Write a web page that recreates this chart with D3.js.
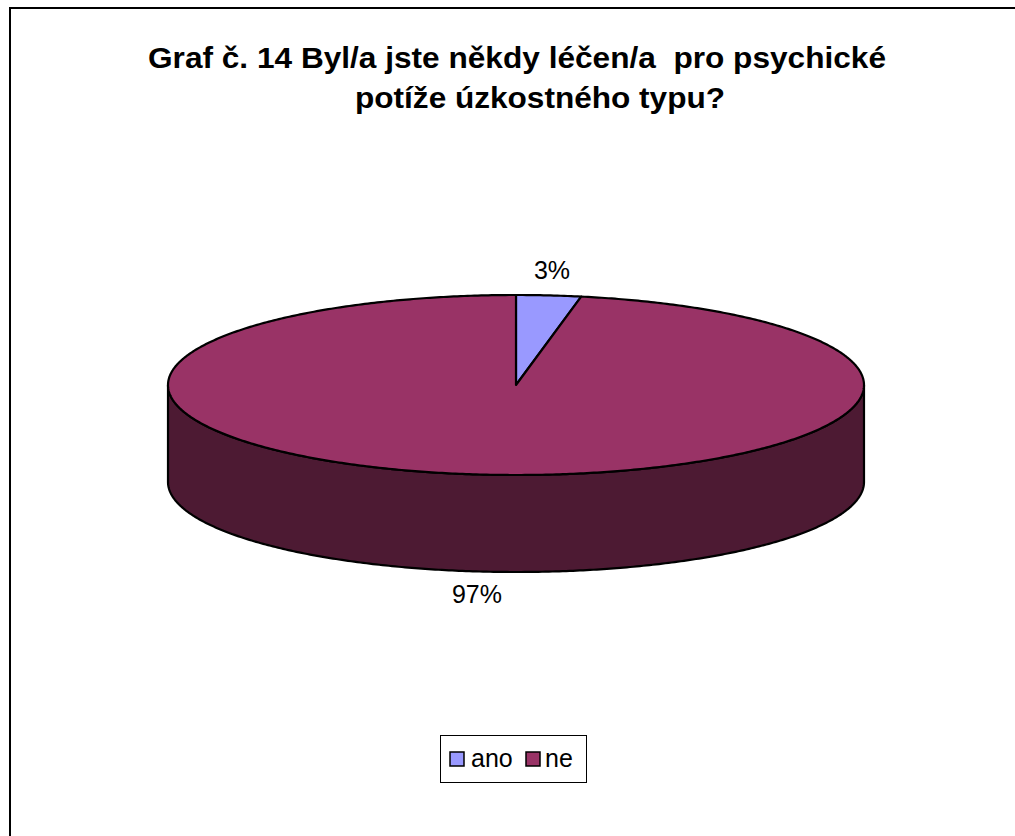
<!DOCTYPE html>
<html><head><meta charset="utf-8">
<script src="https://cdn.jsdelivr.net/npm/d3@7"></script>
<style>html,body{margin:0;background:#fff;overflow:hidden}svg{display:block}text{font-family:"Liberation Sans",Arial,sans-serif;white-space:pre}</style>
</head><body>
<script>
const categories = ["ano", "ne"];
const values = [3, 97];
const labels = ["3%", "97%"];
const colors = ["#9999FF", "#993366"];
const sideColor = "#4D1A33";
const titleLines = ["Graf č. 14 Byl/a jste někdy léčen/a  pro psychické", "potíže úzkostného typu?"];

const W = 1015, H = 836;
const svg = d3.select("body").append("svg").attr("width", W).attr("height", H);
svg.append("rect").attr("x", 10).attr("y", 8).attr("width", 1020).attr("height", 850)
  .attr("fill", "#fff").attr("stroke", "#000").attr("stroke-width", 2);

const titleX = [148, 355], titleLen = [738, 370];
svg.selectAll("text.title").data(titleLines).enter().append("text")
  .attr("class", "title").attr("x", (d, i) => titleX[i]).attr("y", (d, i) => 68 + i * 40)
  .attr("font-weight", "bold").attr("font-size", 29)
  .attr("textLength", (d, i) => titleLen[i]).attr("lengthAdjust", "spacingAndGlyphs")
  .text(d => d);

const cx = 516, cy = 385, rx = 348, ry = 90, depth = 97;
const pie = d3.pie().sort(null).value(d => d)(values);
const pt = (t, dy = 0) => [cx + rx * Math.sin(t), cy - ry * Math.cos(t) + dy];

function arcPoints(a0, a1, dy) {
  const n = Math.max(2, Math.ceil(Math.abs(a1 - a0) / 0.01));
  return d3.range(n + 1).map(i => pt(a0 + (a1 - a0) * i / n, dy));
}
// side (front half)
const sideTop = arcPoints(Math.PI / 2, 3 * Math.PI / 2, 0);
const sideBot = arcPoints(3 * Math.PI / 2, Math.PI / 2, depth);
svg.append("path").attr("d", d3.line()(sideTop.concat(sideBot)) + "Z")
  .attr("fill", sideColor).attr("stroke", "#000").attr("stroke-width", 2.2).attr("stroke-linejoin", "round");

// top slices
svg.selectAll("path.slice").data(pie).enter().append("path").attr("class", "slice")
  .attr("d", d => d3.line()([[cx, cy]].concat(arcPoints(d.startAngle, d.endAngle, 0))) + "Z")
  .attr("fill", (d, i) => colors[i]).attr("stroke", "#000").attr("stroke-width", 2.2).attr("stroke-linejoin", "round");

// labels
const labelPos = [[552, 279], [477, 603]];
svg.selectAll("text.lbl").data(labels).enter().append("text").attr("class", "lbl")
  .attr("x", (d, i) => labelPos[i][0]).attr("y", (d, i) => labelPos[i][1])
  .attr("text-anchor", "middle").attr("font-size", 25).text(d => d);

// legend
const lg = svg.append("g");
lg.append("rect").attr("x", 440.5).attr("y", 735.5).attr("width", 146).attr("height", 47)
  .attr("fill", "#fff").attr("stroke", "#000").attr("stroke-width", 1);
const lx = [450, 526], tx = [471, 545];
categories.forEach((c, i) => {
  lg.append("rect").attr("x", lx[i]).attr("y", 752).attr("width", 14).attr("height", 14)
    .attr("fill", colors[i]).attr("stroke", "#000").attr("stroke-width", 1.5);
  lg.append("text").attr("x", tx[i]).attr("y", 767).attr("font-size", 25).text(c);
});
</script>
</body></html>
